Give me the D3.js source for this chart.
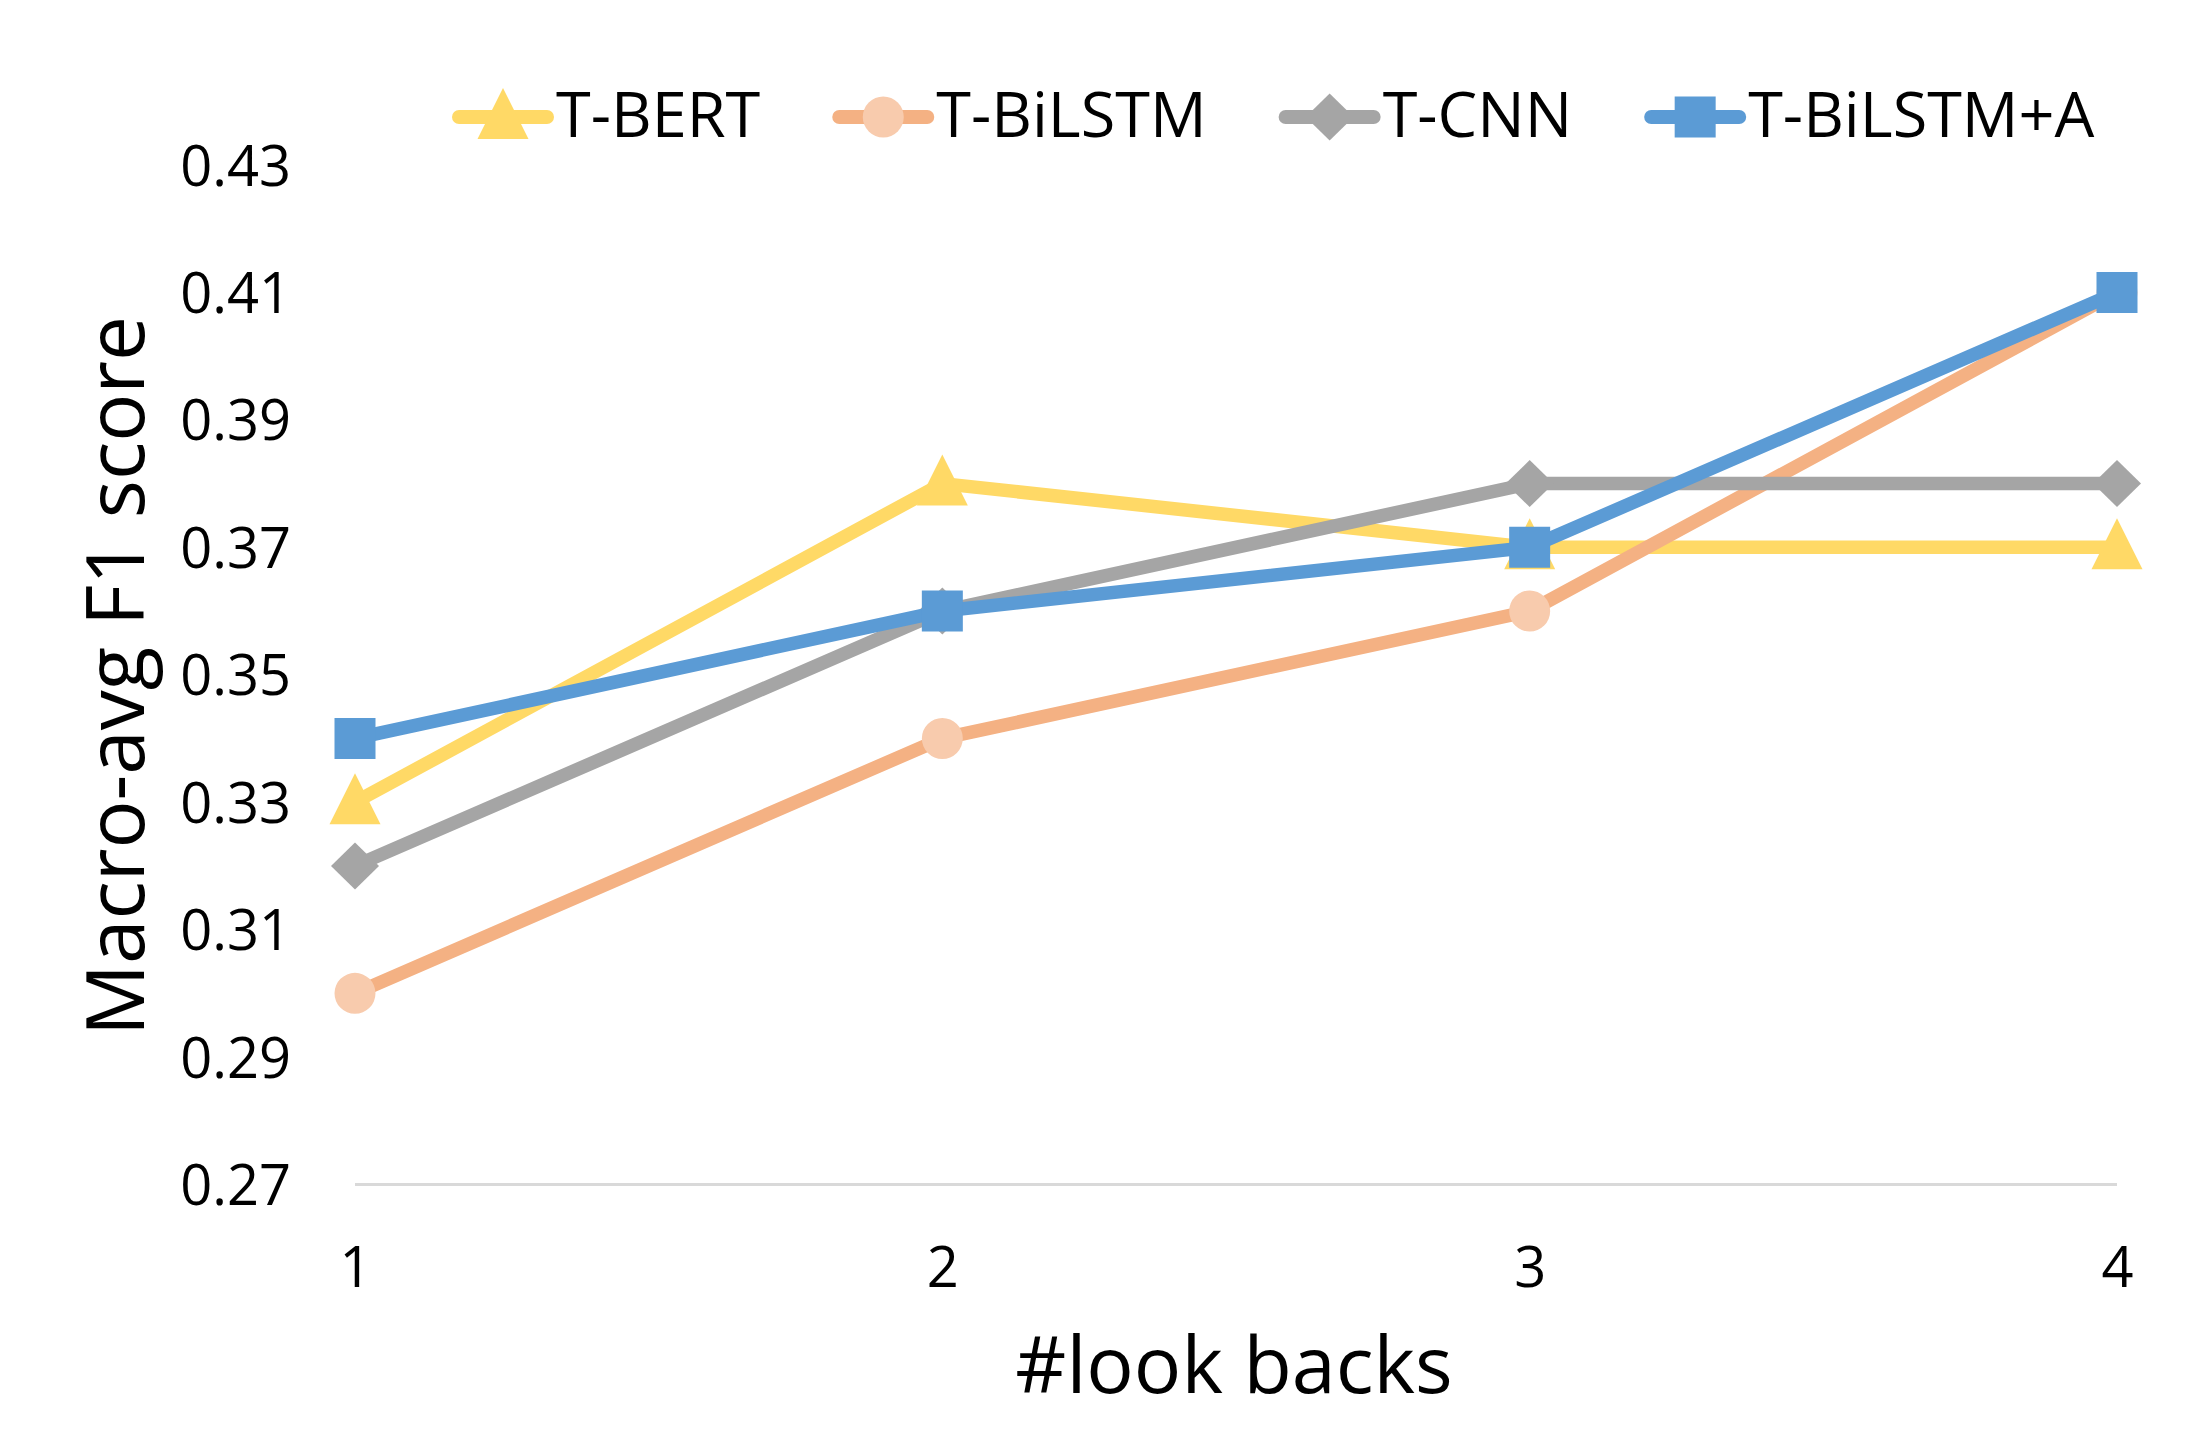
<!DOCTYPE html>
<html>
<head>
<meta charset="utf-8">
<script src="https://cdn.jsdelivr.net/npm/d3@7"></script>
<style>
  html, body { margin: 0; padding: 0; background: #fff; }
  svg { display: block; }
  text { font-family: "Open Sans", sans-serif; fill: #000; }
</style>
</head>
<body>
<svg id="chart" width="2198" height="1443"></svg>
<script>
// ---- data ----
const categories = [1, 2, 3, 4];
const yTickValues = [0.27, 0.29, 0.31, 0.33, 0.35, 0.37, 0.39, 0.41, 0.43];
const seriesNames = ["T-BERT", "T-BiLSTM", "T-CNN", "T-BiLSTM+A"];
const tBert = [0.33, 0.38, 0.37, 0.37];
const tBiLSTM = [0.30, 0.34, 0.36, 0.41];
const tCNN = [0.32, 0.36, 0.38, 0.38];
const tBiLSTMA = [0.34, 0.36, 0.37, 0.41];
const xTitle = "#look backs";
const yTitle = "Macro-avg F1 score";

// ---- styles ----
const styles = [
  { line: "#FFD966", marker: "#FFD966", shape: "triangle" },
  { line: "#F4B183", marker: "#F8CBAD", shape: "circle" },
  { line: "#A5A5A5", marker: "#A5A5A5", shape: "diamond" },
  { line: "#5B9BD5", marker: "#5B9BD5", shape: "square" }
];
const seriesValues = [tBert, tBiLSTM, tCNN, tBiLSTMA];

const svg = d3.select("#chart");
const x = d3.scaleLinear().domain([1, 4]).range([355, 2117]);
const y = d3.scaleLinear().domain([0.27, 0.43]).range([1184.5, 165]);

// bottom gridline / axis line
svg.append("line")
  .attr("x1", x(1)).attr("x2", x(4))
  .attr("y1", y(0.27)).attr("y2", y(0.27))
  .attr("stroke", "#D9D9D9").attr("stroke-width", 3);

// y axis labels
const yAxis = d3.axisLeft(y).tickValues(yTickValues).tickFormat(d3.format(".2f")).tickSize(0).tickPadding(0);
const gy = svg.append("g").attr("transform", "translate(291,0)").call(yAxis);
gy.select(".domain").remove();
gy.selectAll("text")
  .attr("font-family", "Open Sans, sans-serif")
  .attr("font-size", 56).attr("fill", "#000")
  .attr("dy", null).attr("x", 0).attr("y", 20)
  .style("text-anchor", "end");

// x axis labels
const xAxis = d3.axisBottom(x).tickValues(categories).tickFormat(d3.format("d")).tickSize(0).tickPadding(0);
const gx = svg.append("g").attr("transform", "translate(0,1287)").call(xAxis);
gx.select(".domain").remove();
gx.selectAll("text")
  .attr("font-family", "Open Sans, sans-serif")
  .attr("font-size", 56).attr("fill", "#000")
  .attr("dy", null).attr("y", 0);

// axis titles
svg.append("text").attr("x", 1234).attr("y", 1393)
  .attr("text-anchor", "middle").attr("font-size", 79).text(xTitle);
svg.append("text").attr("transform", "translate(144,676) rotate(-90)")
  .attr("text-anchor", "middle").attr("font-size", 80).text(yTitle);

// marker shapes
function markerPath(shape, cx, cy) {
  const p = d3.path();
  if (shape === "triangle") {
    p.moveTo(cx, cy - 29); p.lineTo(cx + 25.5, cy + 22); p.lineTo(cx - 25.5, cy + 22); p.closePath();
  } else if (shape === "diamond") {
    p.moveTo(cx, cy - 23.5); p.lineTo(cx + 24, cy); p.lineTo(cx, cy + 23.5); p.lineTo(cx - 24, cy); p.closePath();
  } else if (shape === "square") {
    p.rect(cx - 20.5, cy - 20.5, 41, 41);
  } else {
    p.arc(cx, cy, 20.5, 0, 2 * Math.PI);
  }
  return p.toString();
}

const line = d3.line().x((d, i) => x(categories[i])).y(d => y(d));

seriesValues.forEach((vals, si) => {
  const st = styles[si];
  const g = svg.append("g");
  g.append("path").attr("d", line(vals))
    .attr("fill", "none").attr("stroke", st.line)
    .attr("stroke-width", 13.5).attr("stroke-linejoin", "round").attr("stroke-linecap", "round");
  g.selectAll("path.m").data(vals).enter().append("path").attr("class", "m")
    .attr("d", (d, i) => markerPath(st.shape, x(categories[i]), y(d)))
    .attr("fill", st.marker);
});

// legend
let lx = 452;
const ly = 117;
seriesNames.forEach((name, si) => {
  const st = styles[si];
  const g = svg.append("g");
  g.append("line").attr("x1", lx + 7).attr("x2", lx + 95).attr("y1", ly).attr("y2", ly)
    .attr("stroke", st.line).attr("stroke-width", 14).attr("stroke-linecap", "round");
  g.append("path").attr("d", markerPath(st.shape, lx + 51, ly)).attr("fill", st.marker);
  const t = g.append("text").attr("x", lx + 104).attr("y", 137).attr("font-size", 63).text(name);
  const w = t.node().getComputedTextLength();
  lx = lx + 104 + w + 72;
});
</script>
</body>
</html>
